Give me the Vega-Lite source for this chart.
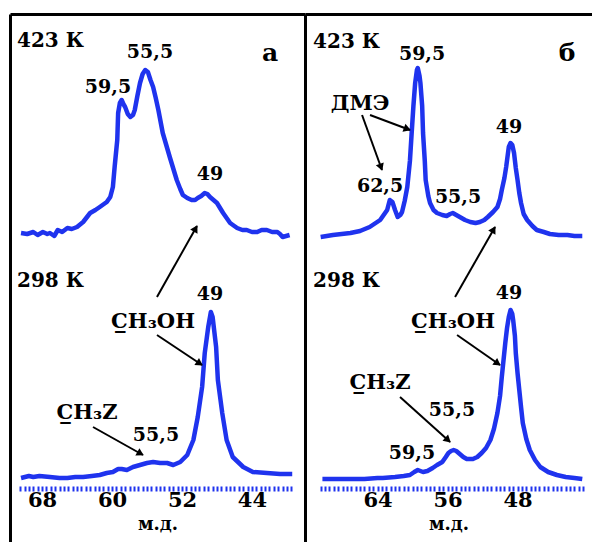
{
  "$schema": "https://vega.github.io/schema/vega-lite/v6.json",
  "padding": {"left": 10, "top": 14, "right": 0, "bottom": 0},
  "background": "white",
  "config": {
    "view": {"stroke": null},
    "axis": {"grid": false},
    "text": {"font": "DejaVu Serif", "fontWeight": "bold", "color": "black"}
  },
  "datasets": {
    "specA": [
      {"ppm": 70.4, "I": 253, "T": "423 К"}, {"ppm": 69.7, "I": 252, "T": "423 К"}, {"ppm": 69.0, "I": 254, "T": "423 К"}, {"ppm": 68.5, "I": 251, "T": "423 К"}, {"ppm": 67.9, "I": 254, "T": "423 К"}, {"ppm": 67.4, "I": 252, "T": "423 К"}, {"ppm": 67.1, "I": 253, "T": "423 К"}, {"ppm": 66.6, "I": 250, "T": "423 К"}, {"ppm": 66.2, "I": 256, "T": "423 К"}, {"ppm": 65.7, "I": 254, "T": "423 К"}, {"ppm": 65.1, "I": 258, "T": "423 К"}, {"ppm": 64.6, "I": 257, "T": "423 К"}, {"ppm": 64.0, "I": 259, "T": "423 К"}, {"ppm": 63.3, "I": 264, "T": "423 К"}, {"ppm": 62.5, "I": 273, "T": "423 К"}, {"ppm": 61.9, "I": 276, "T": "423 К"}, {"ppm": 61.4, "I": 279, "T": "423 К"}, {"ppm": 60.6, "I": 284, "T": "423 К"}, {"ppm": 60.2, "I": 289, "T": "423 К"}, {"ppm": 59.9, "I": 299, "T": "423 К"}, {"ppm": 59.7, "I": 319, "T": "423 К"}, {"ppm": 59.4, "I": 346, "T": "423 К"}, {"ppm": 59.3, "I": 373, "T": "423 К"}, {"ppm": 59.1, "I": 383, "T": "423 К"}, {"ppm": 58.9, "I": 386, "T": "423 К"}, {"ppm": 58.7, "I": 382, "T": "423 К"}, {"ppm": 58.5, "I": 379, "T": "423 К"}, {"ppm": 58.2, "I": 372, "T": "423 К"}, {"ppm": 57.9, "I": 369, "T": "423 К"}, {"ppm": 57.6, "I": 371, "T": "423 К"}, {"ppm": 57.4, "I": 376, "T": "423 К"}, {"ppm": 57.1, "I": 390, "T": "423 К"}, {"ppm": 56.8, "I": 403, "T": "423 К"}, {"ppm": 56.5, "I": 412, "T": "423 К"}, {"ppm": 56.2, "I": 416, "T": "423 К"}, {"ppm": 55.9, "I": 414, "T": "423 К"}, {"ppm": 55.6, "I": 406, "T": "423 К"}, {"ppm": 55.3, "I": 399, "T": "423 К"}, {"ppm": 55.0, "I": 388, "T": "423 К"}, {"ppm": 54.7, "I": 376, "T": "423 К"}, {"ppm": 54.2, "I": 353, "T": "423 К"}, {"ppm": 53.4, "I": 329, "T": "423 К"}, {"ppm": 52.6, "I": 306, "T": "423 К"}, {"ppm": 52.2, "I": 297, "T": "423 К"}, {"ppm": 51.9, "I": 291, "T": "423 К"}, {"ppm": 51.4, "I": 288, "T": "423 К"}, {"ppm": 50.9, "I": 286, "T": "423 К"}, {"ppm": 50.5, "I": 286, "T": "423 К"}, {"ppm": 50.2, "I": 288, "T": "423 К"}, {"ppm": 49.8, "I": 290, "T": "423 К"}, {"ppm": 49.4, "I": 293, "T": "423 К"}, {"ppm": 49.1, "I": 292, "T": "423 К"}, {"ppm": 48.8, "I": 289, "T": "423 К"}, {"ppm": 48.4, "I": 286, "T": "423 К"}, {"ppm": 48.0, "I": 283, "T": "423 К"}, {"ppm": 47.3, "I": 273, "T": "423 К"}, {"ppm": 46.5, "I": 263, "T": "423 К"}, {"ppm": 45.7, "I": 258, "T": "423 К"}, {"ppm": 45.1, "I": 256, "T": "423 К"}, {"ppm": 44.6, "I": 256, "T": "423 К"}, {"ppm": 44.0, "I": 254, "T": "423 К"}, {"ppm": 43.4, "I": 254, "T": "423 К"}, {"ppm": 42.9, "I": 256, "T": "423 К"}, {"ppm": 42.3, "I": 256, "T": "423 К"}, {"ppm": 41.7, "I": 254, "T": "423 К"}, {"ppm": 41.1, "I": 254, "T": "423 К"}, {"ppm": 40.8, "I": 252, "T": "423 К"}, {"ppm": 40.5, "I": 249, "T": "423 К"}, {"ppm": 40.1, "I": 250, "T": "423 К"}, {"ppm": 39.7, "I": 251, "T": "423 К"},
      {"ppm": 70.4, "I": 8, "T": "298 К"}, {"ppm": 69.5, "I": 10, "T": "298 К"}, {"ppm": 69.0, "I": 9, "T": "298 К"}, {"ppm": 68.3, "I": 10, "T": "298 К"}, {"ppm": 67.1, "I": 9, "T": "298 К"}, {"ppm": 66.0, "I": 8, "T": "298 К"}, {"ppm": 65.1, "I": 8, "T": "298 К"}, {"ppm": 64.2, "I": 9, "T": "298 К"}, {"ppm": 63.3, "I": 9, "T": "298 К"}, {"ppm": 62.3, "I": 10, "T": "298 К"}, {"ppm": 61.4, "I": 11, "T": "298 К"}, {"ppm": 60.6, "I": 13, "T": "298 К"}, {"ppm": 59.9, "I": 14, "T": "298 К"}, {"ppm": 59.3, "I": 17, "T": "298 К"}, {"ppm": 58.9, "I": 17, "T": "298 К"}, {"ppm": 58.3, "I": 16, "T": "298 К"}, {"ppm": 57.6, "I": 19, "T": "298 К"}, {"ppm": 56.8, "I": 21, "T": "298 К"}, {"ppm": 56.0, "I": 23, "T": "298 К"}, {"ppm": 55.3, "I": 24, "T": "298 К"}, {"ppm": 54.5, "I": 23, "T": "298 К"}, {"ppm": 53.7, "I": 23, "T": "298 К"}, {"ppm": 53.0, "I": 21, "T": "298 К"}, {"ppm": 52.2, "I": 24, "T": "298 К"}, {"ppm": 51.4, "I": 31, "T": "298 К"}, {"ppm": 50.7, "I": 46, "T": "298 К"}, {"ppm": 50.2, "I": 69, "T": "298 К"}, {"ppm": 49.7, "I": 99, "T": "298 К"}, {"ppm": 49.4, "I": 133, "T": "298 К"}, {"ppm": 49.0, "I": 159, "T": "298 К"}, {"ppm": 48.7, "I": 174, "T": "298 К"}, {"ppm": 48.5, "I": 169, "T": "298 К"}, {"ppm": 48.1, "I": 139, "T": "298 К"}, {"ppm": 47.9, "I": 106, "T": "298 К"}, {"ppm": 47.4, "I": 73, "T": "298 К"}, {"ppm": 46.9, "I": 46, "T": "298 К"}, {"ppm": 46.2, "I": 29, "T": "298 К"}, {"ppm": 45.0, "I": 19, "T": "298 К"}, {"ppm": 43.9, "I": 14, "T": "298 К"}, {"ppm": 42.3, "I": 13, "T": "298 К"}, {"ppm": 40.8, "I": 12, "T": "298 К"}, {"ppm": 39.4, "I": 12, "T": "298 К"}
    ],
    "specB": [
      {"ppm": 70.5, "I": 249, "T": "423 К"}, {"ppm": 69.1, "I": 251, "T": "423 К"}, {"ppm": 67.1, "I": 253, "T": "423 К"}, {"ppm": 66.0, "I": 255, "T": "423 К"}, {"ppm": 64.9, "I": 259, "T": "423 К"}, {"ppm": 63.7, "I": 266, "T": "423 К"}, {"ppm": 62.9, "I": 276, "T": "423 К"}, {"ppm": 62.6, "I": 286, "T": "423 К"}, {"ppm": 62.3, "I": 284, "T": "423 К"}, {"ppm": 62.0, "I": 276, "T": "423 К"}, {"ppm": 61.7, "I": 269, "T": "423 К"}, {"ppm": 61.4, "I": 271, "T": "423 К"}, {"ppm": 61.2, "I": 274, "T": "423 К"}, {"ppm": 60.9, "I": 285, "T": "423 К"}, {"ppm": 60.6, "I": 299, "T": "423 К"}, {"ppm": 60.3, "I": 325, "T": "423 К"}, {"ppm": 60.1, "I": 353, "T": "423 К"}, {"ppm": 59.9, "I": 380, "T": "423 К"}, {"ppm": 59.7, "I": 403, "T": "423 К"}, {"ppm": 59.5, "I": 416, "T": "423 К"}, {"ppm": 59.4, "I": 418, "T": "423 К"}, {"ppm": 59.2, "I": 410, "T": "423 К"}, {"ppm": 59.1, "I": 403, "T": "423 К"}, {"ppm": 58.9, "I": 380, "T": "423 К"}, {"ppm": 58.8, "I": 353, "T": "423 К"}, {"ppm": 58.6, "I": 325, "T": "423 К"}, {"ppm": 58.5, "I": 306, "T": "423 К"}, {"ppm": 58.2, "I": 290, "T": "423 К"}, {"ppm": 58.0, "I": 283, "T": "423 К"}, {"ppm": 57.6, "I": 276, "T": "423 К"}, {"ppm": 57.2, "I": 273, "T": "423 К"}, {"ppm": 56.6, "I": 271, "T": "423 К"}, {"ppm": 56.1, "I": 270, "T": "423 К"}, {"ppm": 55.7, "I": 272, "T": "423 К"}, {"ppm": 55.4, "I": 273, "T": "423 К"}, {"ppm": 55.0, "I": 271, "T": "423 К"}, {"ppm": 54.6, "I": 269, "T": "423 К"}, {"ppm": 54.0, "I": 266, "T": "423 К"}, {"ppm": 53.4, "I": 264, "T": "423 К"}, {"ppm": 52.8, "I": 263, "T": "423 К"}, {"ppm": 52.3, "I": 264, "T": "423 К"}, {"ppm": 51.8, "I": 266, "T": "423 К"}, {"ppm": 51.4, "I": 269, "T": "423 К"}, {"ppm": 50.8, "I": 274, "T": "423 К"}, {"ppm": 50.3, "I": 279, "T": "423 К"}, {"ppm": 50.0, "I": 287, "T": "423 К"}, {"ppm": 49.8, "I": 296, "T": "423 К"}, {"ppm": 49.5, "I": 308, "T": "423 К"}, {"ppm": 49.3, "I": 319, "T": "423 К"}, {"ppm": 49.0, "I": 339, "T": "423 К"}, {"ppm": 48.8, "I": 343, "T": "423 К"}, {"ppm": 48.6, "I": 341, "T": "423 К"}, {"ppm": 48.4, "I": 333, "T": "423 К"}, {"ppm": 48.2, "I": 318, "T": "423 К"}, {"ppm": 48.0, "I": 306, "T": "423 К"}, {"ppm": 47.8, "I": 293, "T": "423 К"}, {"ppm": 47.6, "I": 283, "T": "423 К"}, {"ppm": 47.3, "I": 272, "T": "423 К"}, {"ppm": 46.9, "I": 266, "T": "423 К"}, {"ppm": 46.3, "I": 260, "T": "423 К"}, {"ppm": 45.8, "I": 256, "T": "423 К"}, {"ppm": 45.0, "I": 254, "T": "423 К"}, {"ppm": 44.3, "I": 252, "T": "423 К"}, {"ppm": 43.3, "I": 251, "T": "423 К"}, {"ppm": 42.3, "I": 251, "T": "423 К"}, {"ppm": 41.5, "I": 250, "T": "423 К"}, {"ppm": 40.6, "I": 250, "T": "423 К"},
      {"ppm": 70.3, "I": 7, "T": "298 К"}, {"ppm": 68.5, "I": 7, "T": "298 К"}, {"ppm": 67.1, "I": 7, "T": "298 К"}, {"ppm": 65.5, "I": 7, "T": "298 К"}, {"ppm": 64.0, "I": 8, "T": "298 К"}, {"ppm": 63.4, "I": 8, "T": "298 К"}, {"ppm": 62.0, "I": 9, "T": "298 К"}, {"ppm": 61.0, "I": 10, "T": "298 К"}, {"ppm": 60.3, "I": 11, "T": "298 К"}, {"ppm": 59.8, "I": 14, "T": "298 К"}, {"ppm": 59.4, "I": 16, "T": "298 К"}, {"ppm": 59.1, "I": 15, "T": "298 К"}, {"ppm": 58.8, "I": 14, "T": "298 К"}, {"ppm": 58.3, "I": 15, "T": "298 К"}, {"ppm": 57.7, "I": 18, "T": "298 К"}, {"ppm": 57.2, "I": 21, "T": "298 К"}, {"ppm": 56.6, "I": 24, "T": "298 К"}, {"ppm": 56.2, "I": 29, "T": "298 К"}, {"ppm": 55.9, "I": 33, "T": "298 К"}, {"ppm": 55.6, "I": 35, "T": "298 К"}, {"ppm": 55.3, "I": 36, "T": "298 К"}, {"ppm": 55.0, "I": 35, "T": "298 К"}, {"ppm": 54.6, "I": 32, "T": "298 К"}, {"ppm": 54.2, "I": 29, "T": "298 К"}, {"ppm": 53.8, "I": 27, "T": "298 К"}, {"ppm": 53.1, "I": 27, "T": "298 К"}, {"ppm": 52.6, "I": 29, "T": "298 К"}, {"ppm": 52.1, "I": 33, "T": "298 К"}, {"ppm": 51.6, "I": 38, "T": "298 К"}, {"ppm": 51.1, "I": 46, "T": "298 К"}, {"ppm": 50.7, "I": 57, "T": "298 К"}, {"ppm": 50.3, "I": 73, "T": "298 К"}, {"ppm": 50.0, "I": 90, "T": "298 К"}, {"ppm": 49.8, "I": 109, "T": "298 К"}, {"ppm": 49.6, "I": 126, "T": "298 К"}, {"ppm": 49.4, "I": 143, "T": "298 К"}, {"ppm": 49.2, "I": 158, "T": "298 К"}, {"ppm": 49.0, "I": 169, "T": "298 К"}, {"ppm": 48.8, "I": 176, "T": "298 К"}, {"ppm": 48.6, "I": 172, "T": "298 К"}, {"ppm": 48.5, "I": 166, "T": "298 К"}, {"ppm": 48.3, "I": 150, "T": "298 К"}, {"ppm": 48.2, "I": 133, "T": "298 К"}, {"ppm": 48.0, "I": 113, "T": "298 К"}, {"ppm": 47.8, "I": 96, "T": "298 К"}, {"ppm": 47.6, "I": 79, "T": "298 К"}, {"ppm": 47.4, "I": 63, "T": "298 К"}, {"ppm": 47.0, "I": 47, "T": "298 К"}, {"ppm": 46.6, "I": 36, "T": "298 К"}, {"ppm": 46.0, "I": 26, "T": "298 К"}, {"ppm": 45.4, "I": 19, "T": "298 К"}, {"ppm": 44.5, "I": 14, "T": "298 К"}, {"ppm": 43.5, "I": 11, "T": "298 К"}, {"ppm": 42.5, "I": 9, "T": "298 К"}, {"ppm": 41.5, "I": 8, "T": "298 К"}, {"ppm": 40.6, "I": 7, "T": "298 К"}
    ],
    "textA": [
      {"ppm": 70.86, "I": 445, "label": "423 К", "kind": "temp"},
      {"ppm": 70.86, "I": 205, "label": "298 К", "kind": "temp"},
      {"ppm": 41.94, "I": 433, "label": "а", "kind": "letter"},
      {"ppm": 55.66, "I": 434, "label": "55,5", "kind": "peak"},
      {"ppm": 60.46, "I": 399, "label": "59,5", "kind": "peak"},
      {"ppm": 48.8, "I": 312, "label": "49", "kind": "peak"},
      {"ppm": 48.8, "I": 192, "label": "49", "kind": "peak"},
      {"ppm": 54.97, "I": 51, "label": "55,5", "kind": "peak"},
      {"ppm": 55.31, "I": 164, "label": "C̲H₃OH", "kind": "compound"},
      {"ppm": 62.86, "I": 73, "label": "C̲H₃Z", "kind": "compound"}
    ],
    "textB": [
      {"ppm": 71.37, "I": 444, "label": "423 К", "kind": "temp"},
      {"ppm": 71.37, "I": 205, "label": "298 К", "kind": "temp"},
      {"ppm": 42.34, "I": 433, "label": "б", "kind": "letter"},
      {"ppm": 58.91, "I": 432, "label": "59,5", "kind": "peak"},
      {"ppm": 66.0, "I": 382, "label": "ДМЭ", "kind": "compound"},
      {"ppm": 48.97, "I": 359, "label": "49", "kind": "peak"},
      {"ppm": 63.71, "I": 300, "label": "62,5", "kind": "peak"},
      {"ppm": 54.8, "I": 289, "label": "55,5", "kind": "peak"},
      {"ppm": 48.97, "I": 193, "label": "49", "kind": "peak"},
      {"ppm": 55.37, "I": 164, "label": "C̲H₃OH", "kind": "compound"},
      {"ppm": 63.71, "I": 103, "label": "C̲H₃Z", "kind": "compound"},
      {"ppm": 55.49, "I": 76, "label": "55,5", "kind": "peak"},
      {"ppm": 60.06, "I": 33, "label": "59,5", "kind": "peak"}
    ],
    "arrowA": [
      {"x1": 54.86, "y1": 189, "x2": 50.29, "y2": 260, "hx": 50.51, "hy": 256.5, "dir": 29.4},
      {"x1": 54.86, "y1": 151, "x2": 49.71, "y2": 121, "hx": 50.09, "hy": 123.2, "dir": 123.7},
      {"x1": 62.17, "y1": 59, "x2": 56.46, "y2": 31, "hx": 56.86, "hy": 33, "dir": 119.2}
    ],
    "arrowB": [
      {"x1": 55.14, "y1": 189, "x2": 50.57, "y2": 259, "hx": 50.8, "hy": 255.5, "dir": 29.7},
      {"x1": 64.86, "y1": 371, "x2": 60.29, "y2": 356, "hx": 60.72, "hy": 357.4, "dir": 110.6},
      {"x1": 65.77, "y1": 371, "x2": 63.49, "y2": 316, "hx": 63.65, "hy": 319.8, "dir": 160},
      {"x1": 54.91, "y1": 151, "x2": 50.0, "y2": 121, "hx": 50.38, "hy": 123.3, "dir": 124.9},
      {"x1": 61.43, "y1": 89, "x2": 55.71, "y2": 44, "hx": 56.05, "hy": 46.7, "dir": 132}
    ]
  },
  "hconcat": [
    {
      "width": 295,
      "height": 528,
      "layer": [
        {
          "data": {"name": "specA"},
          "mark": {"type": "line", "color": "#1f33ee", "strokeWidth": 4.5, "strokeJoin": "round"},
          "encoding": {
            "x": {"field": "ppm", "type": "quantitative", "scale": {"domain": [37.94, 71.66], "reverse": true, "nice": false, "zero": false},
                  "axis": {"orient": "top", "domainColor": "black", "domainWidth": 3, "ticks": false, "labels": false, "title": null, "grid": false}},
            "y": {"field": "I", "type": "quantitative", "scale": {"domain": [-56, 472], "nice": false, "zero": false},
                  "axis": {"orient": "left", "domainColor": "black", "domainWidth": 3, "ticks": false, "labels": false, "title": null, "grid": false}},
            "detail": {"field": "T", "type": "nominal"}
          }
        },
        {
          "mark": {"type": "rule", "color": "#1f33ee", "strokeWidth": 3},
          "encoding": {
            "x": {"datum": 70.5, "type": "quantitative", "scale": {"domain": [37.94, 71.66], "reverse": true, "nice": false, "zero": false},
                  "axis": {"orient": "bottom", "offset": -56, "domain": false, "labels": false, "title": null, "grid": false,
                           "tickColor": "#1f33ee", "tickWidth": 2, "tickSize": 5,
                           "values": [70.5, 70, 69.5, 69, 68.5, 68, 67.5, 67, 66.5, 66, 65.5, 65, 64.5, 64, 63.5, 63, 62.5, 62, 61.5, 61, 60.5, 60, 59.5, 59, 58.5, 58, 57.5, 57, 56.5, 56, 55.5, 55, 54.5, 54, 53.5, 53, 52.5, 52, 51.5, 51, 50.5, 50, 49.5, 49, 48.5, 48, 47.5, 47, 46.5, 46, 45.5, 45, 44.5, 44, 43.5, 43, 42.5, 42, 41.5, 41, 40.5, 40, 39.5]}},
            "x2": {"datum": 39.3},
            "y": {"datum": 0, "type": "quantitative", "scale": {"domain": [-56, 472], "nice": false, "zero": false}, "axis": null}
          }
        },
        {
          "data": {"name": "textA"},
          "transform": [{"filter": "datum.kind === 'peak'"}],
          "mark": {"type": "text", "fontSize": 19, "align": "center", "baseline": "middle"},
          "encoding": {
            "x": {"field": "ppm", "type": "quantitative", "scale": {"domain": [37.94, 71.66], "reverse": true, "nice": false, "zero": false},
                  "axis": {"orient": "bottom", "offset": -56, "domain": false, "ticks": false, "grid": false, "values": [68, 60, 52, 44],
                           "labelFont": "DejaVu Serif", "labelFontWeight": "bold", "labelFontSize": 21, "labelColor": "black", "labelPadding": 3, "labelOverlap": false, "labelFlush": false,
                           "title": "м.д.", "titleFont": "DejaVu Serif", "titleFontWeight": "bold", "titleFontSize": 18, "titleColor": "black", "titlePadding": 5}},
            "y": {"field": "I", "type": "quantitative", "scale": {"domain": [-56, 472], "nice": false, "zero": false}, "axis": null},
            "text": {"field": "label"}
          }
        },
        {
          "data": {"name": "textA"},
          "transform": [{"filter": "datum.kind === 'compound'"}],
          "mark": {"type": "text", "fontSize": 21, "align": "center", "baseline": "middle"},
          "encoding": {
            "x": {"field": "ppm", "type": "quantitative", "axis": null},
            "y": {"field": "I", "type": "quantitative", "axis": null},
            "text": {"field": "label"}
          }
        },
        {
          "data": {"name": "textA"},
          "transform": [{"filter": "datum.kind === 'temp'"}],
          "mark": {"type": "text", "fontSize": 20, "align": "left", "baseline": "middle"},
          "encoding": {
            "x": {"field": "ppm", "type": "quantitative", "axis": null},
            "y": {"field": "I", "type": "quantitative", "axis": null},
            "text": {"field": "label"}
          }
        },
        {
          "data": {"name": "textA"},
          "transform": [{"filter": "datum.kind === 'letter'"}],
          "mark": {"type": "text", "fontSize": 25, "align": "center", "baseline": "middle"},
          "encoding": {
            "x": {"field": "ppm", "type": "quantitative", "axis": null},
            "y": {"field": "I", "type": "quantitative", "axis": null},
            "text": {"field": "label"}
          }
        },
        {
          "data": {"name": "arrowA"},
          "mark": {"type": "rule", "color": "black", "strokeWidth": 2},
          "encoding": {
            "x": {"field": "x1", "type": "quantitative", "axis": null},
            "y": {"field": "y1", "type": "quantitative", "axis": null},
            "x2": {"field": "x2"},
            "y2": {"field": "y2"}
          }
        },
        {
          "data": {"name": "arrowA"},
          "mark": {"type": "point", "shape": "triangle", "filled": true, "fill": "black", "stroke": null, "size": 70, "opacity": 1},
          "encoding": {
            "x": {"field": "hx", "type": "quantitative", "axis": null},
            "y": {"field": "hy", "type": "quantitative", "axis": null},
            "angle": {"field": "dir", "type": "quantitative", "scale": {"domain": [0, 360], "range": [0, 360]}}
          }
        }
      ],
      "resolve": {"axis": {"x": "independent", "y": "independent"}}
    },
    {
      "width": 287,
      "height": 528,
      "layer": [
        {
          "data": {"name": "specB"},
          "mark": {"type": "line", "color": "#1f33ee", "strokeWidth": 4.5, "strokeJoin": "round"},
          "encoding": {
            "x": {"field": "ppm", "type": "quantitative", "scale": {"domain": [39.49, 72.29], "reverse": true, "nice": false, "zero": false},
                  "axis": {"orient": "top", "domainColor": "black", "domainWidth": 3, "ticks": false, "labels": false, "title": null, "grid": false}},
            "y": {"field": "I", "type": "quantitative", "scale": {"domain": [-56, 472], "nice": false, "zero": false},
                  "axis": {"orient": "left", "domainColor": "black", "domainWidth": 3, "ticks": false, "labels": false, "title": null, "grid": false}},
            "detail": {"field": "T", "type": "nominal"}
          }
        },
        {
          "mark": {"type": "rule", "color": "#1f33ee", "strokeWidth": 3},
          "encoding": {
            "x": {"datum": 70.57, "type": "quantitative", "scale": {"domain": [39.49, 72.29], "reverse": true, "nice": false, "zero": false},
                  "axis": {"orient": "bottom", "offset": -56, "domain": false, "labels": false, "title": null, "grid": false,
                           "tickColor": "#1f33ee", "tickWidth": 2, "tickSize": 5,
                           "values": [70.5, 70, 69.5, 69, 68.5, 68, 67.5, 67, 66.5, 66, 65.5, 65, 64.5, 64, 63.5, 63, 62.5, 62, 61.5, 61, 60.5, 60, 59.5, 59, 58.5, 58, 57.5, 57, 56.5, 56, 55.5, 55, 54.5, 54, 53.5, 53, 52.5, 52, 51.5, 51, 50.5, 50, 49.5, 49, 48.5, 48, 47.5, 47, 46.5, 46, 45.5, 45, 44.5, 44, 43.5, 43, 42.5, 42, 41.5, 41, 40.5]}},
            "x2": {"datum": 40.29},
            "y": {"datum": 0, "type": "quantitative", "scale": {"domain": [-56, 472], "nice": false, "zero": false}, "axis": null}
          }
        },
        {
          "data": {"name": "textB"},
          "transform": [{"filter": "datum.kind === 'peak'"}],
          "mark": {"type": "text", "fontSize": 19, "align": "center", "baseline": "middle"},
          "encoding": {
            "x": {"field": "ppm", "type": "quantitative", "scale": {"domain": [39.49, 72.29], "reverse": true, "nice": false, "zero": false},
                  "axis": {"orient": "bottom", "offset": -56, "domain": false, "ticks": false, "grid": false, "values": [64, 56, 48],
                           "labelFont": "DejaVu Serif", "labelFontWeight": "bold", "labelFontSize": 21, "labelColor": "black", "labelPadding": 3, "labelOverlap": false, "labelFlush": false,
                           "title": "м.д.", "titleFont": "DejaVu Serif", "titleFontWeight": "bold", "titleFontSize": 18, "titleColor": "black", "titlePadding": 5}},
            "y": {"field": "I", "type": "quantitative", "scale": {"domain": [-56, 472], "nice": false, "zero": false}, "axis": null},
            "text": {"field": "label"}
          }
        },
        {
          "data": {"name": "textB"},
          "transform": [{"filter": "datum.kind === 'compound'"}],
          "mark": {"type": "text", "fontSize": 21, "align": "center", "baseline": "middle"},
          "encoding": {
            "x": {"field": "ppm", "type": "quantitative", "axis": null},
            "y": {"field": "I", "type": "quantitative", "axis": null},
            "text": {"field": "label"}
          }
        },
        {
          "data": {"name": "textB"},
          "transform": [{"filter": "datum.kind === 'temp'"}],
          "mark": {"type": "text", "fontSize": 20, "align": "left", "baseline": "middle"},
          "encoding": {
            "x": {"field": "ppm", "type": "quantitative", "axis": null},
            "y": {"field": "I", "type": "quantitative", "axis": null},
            "text": {"field": "label"}
          }
        },
        {
          "data": {"name": "textB"},
          "transform": [{"filter": "datum.kind === 'letter'"}],
          "mark": {"type": "text", "fontSize": 25, "align": "center", "baseline": "middle"},
          "encoding": {
            "x": {"field": "ppm", "type": "quantitative", "axis": null},
            "y": {"field": "I", "type": "quantitative", "axis": null},
            "text": {"field": "label"}
          }
        },
        {
          "data": {"name": "arrowB"},
          "mark": {"type": "rule", "color": "black", "strokeWidth": 2},
          "encoding": {
            "x": {"field": "x1", "type": "quantitative", "axis": null},
            "y": {"field": "y1", "type": "quantitative", "axis": null},
            "x2": {"field": "x2"},
            "y2": {"field": "y2"}
          }
        },
        {
          "data": {"name": "arrowB"},
          "mark": {"type": "point", "shape": "triangle", "filled": true, "fill": "black", "stroke": null, "size": 70, "opacity": 1},
          "encoding": {
            "x": {"field": "hx", "type": "quantitative", "axis": null},
            "y": {"field": "hy", "type": "quantitative", "axis": null},
            "angle": {"field": "dir", "type": "quantitative", "scale": {"domain": [0, 360], "range": [0, 360]}}
          }
        }
      ],
      "resolve": {"axis": {"x": "independent", "y": "independent"}}
    }
  ],
  "spacing": 0
}
